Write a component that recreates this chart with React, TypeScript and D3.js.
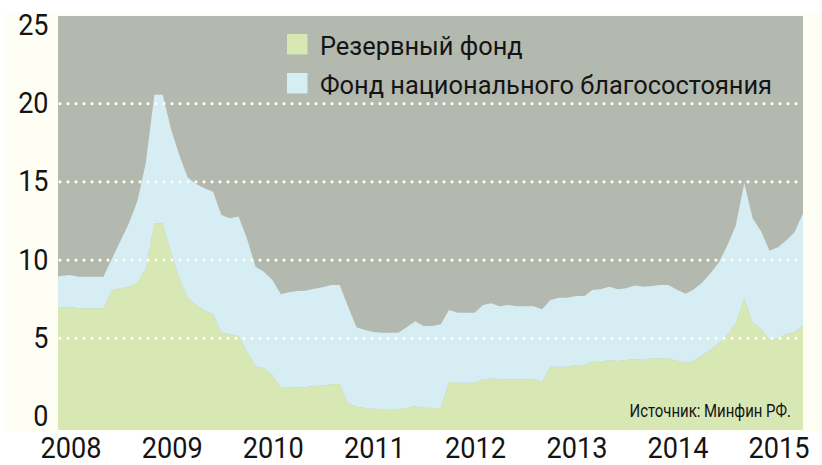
import React from 'react';
import * as d3 from 'd3';

const W = 822;
const H = 465;

// Monthly observations, first value = November 2007, last = April 2015
const FIRST_MONTH = new Date(2007, 10, 1);

// Резервный фонд (lower layer)
const reserveFund = [
  6.92, 6.95, 7.02, 6.92, 6.92, 6.92, 6.92, 8.09, 8.2, 8.3, 8.55, 9.48,
  12.35, 12.35, 10.43, 8.73, 7.62, 7.13, 6.76, 6.55, 5.36, 5.26, 5.15, 4.2,
  3.2, 3.1, 2.65, 1.84, 1.84, 1.85, 1.87, 1.95, 1.97, 2.06, 2.08, 0.86,
  0.62, 0.54, 0.5, 0.48, 0.48, 0.48, 0.55, 0.65, 0.57, 0.55, 0.55, 2.23,
  2.16, 2.16, 2.16, 2.37, 2.44, 2.37, 2.37, 2.37, 2.37, 2.37, 2.25, 3.18,
  3.18, 3.18, 3.29, 3.29, 3.5, 3.5, 3.61, 3.55, 3.62, 3.68, 3.61, 3.72,
  3.72, 3.72, 3.55, 3.44, 3.57, 3.9, 4.25, 4.7, 5.2, 5.95, 7.56, 6.0,
  5.58, 4.89, 5.0, 5.27, 5.38, 5.85,
];

// Фонд национального благосостояния (upper layer)
const wealthFund = [
  2.02, 2.03, 2.03, 2.02, 2.02, 2.02, 2.02, 2.01, 3.0, 4.05, 5.25, 6.72,
  8.21, 8.21, 7.89, 7.88, 7.67, 7.74, 7.83, 7.82, 7.52, 7.41, 7.63, 7.2,
  6.38, 6.16, 6.08, 5.97, 6.1, 6.17, 6.17, 6.21, 6.29, 6.35, 6.33, 6.19,
  5.08, 4.99, 4.9, 4.88, 4.88, 4.88, 5.15, 5.44, 5.22, 5.24, 5.35, 4.58,
  4.48, 4.48, 4.48, 4.76, 4.8, 4.68, 4.76, 4.68, 4.68, 4.68, 4.6, 4.27,
  4.42, 4.42, 4.41, 4.41, 4.59, 4.63, 4.69, 4.58, 4.58, 4.7, 4.69, 4.63,
  4.69, 4.69, 4.55, 4.41, 4.53, 4.65, 4.9, 5.15, 5.7, 6.25, 7.35, 6.67,
  6.24, 5.71, 5.82, 6.02, 6.38, 7.14,
];

const yearTicks = [2008, 2009, 2010, 2011, 2012, 2013, 2014, 2015];
const yTicks = [0, 5, 10, 15, 20, 25];
const gridValues = [5, 10, 15, 20];
const legendLabels = ['Резервный фонд', 'Фонд национального благосостояния'];
const sourceNote = 'Источник: Минфин РФ.';

const COLORS = {
  panel: '#fefef4',
  plot: '#b3b9af',
  rf: '#d8e8b4',
  nwf: '#d5edf3',
  grid: '#fdfdf2',
  text: '#141414',
};

const FONT = 'Roboto, "Noto Sans", sans-serif';

export default function App() {
  const plot = { left: 58, right: 803, top: 16, bottom: 430 };

  const x = d3
    .scaleTime()
    .domain([new Date(2007, 10, 19), new Date(2015, 3, 1)])
    .range([plot.left, plot.right]);

  const y = d3.scaleLinear().domain([-0.86, 25.6]).range([plot.bottom, plot.top]);

  const data = reserveFund.map((rf, i) => ({
    date: d3.timeMonth.offset(FIRST_MONTH, i),
    rf,
    nwf: wealthFund[i],
  }));

  const series = d3.stack<any>().keys(['rf', 'nwf'])(data);
  const floor = y.domain()[0];

  const areaGen = d3
    .area<any>()
    .x((d) => x(d.data.date))
    .y0((d) => y(d[0] === 0 ? floor : d[0]))
    .y1((d) => y(d[1]))
    .curve(d3.curveLinear);

  const layerColors = [COLORS.rf, COLORS.nwf];

  return (
    <svg
      width={W}
      height={H}
      viewBox={`0 0 ${W} ${H}`}
      style={{ position: 'absolute', left: 0, top: 0, display: 'block' }}
    >
      <rect x={0} y={0} width={W} height={H} fill="#ffffff" />
      <rect x={5} y={13} width={W - 5} height={plot.bottom + 2 - 13} fill={COLORS.panel} />
      <defs>
        <clipPath id="plotClip">
          <rect
            x={plot.left}
            y={plot.top}
            width={plot.right - plot.left}
            height={plot.bottom - plot.top}
          />
        </clipPath>
      </defs>
      <rect
        x={plot.left}
        y={plot.top}
        width={plot.right - plot.left}
        height={plot.bottom - plot.top}
        fill={COLORS.plot}
      />
      <g clipPath="url(#plotClip)">
        {series.map((s, i) => (
          <path key={s.key} d={areaGen(s as any) || ''} fill={layerColors[i]} />
        ))}
      </g>

      {gridValues.map((v) => (
        <line
          key={v}
          x1={plot.left + 2}
          x2={plot.right}
          y1={y(v)}
          y2={y(v)}
          stroke={COLORS.grid}
          strokeWidth={3.2}
          strokeLinecap="round"
          strokeDasharray="0 8"
        />
      ))}

      {yTicks.map((v) => (
        <text
          key={v}
          transform={`translate(48.5, ${y(v) + 9.5}) scale(0.9, 1)`}
          textAnchor="end"
          fontFamily={FONT}
          fontSize={30}
          fill={COLORS.text}
        >
          {v}
        </text>
      ))}

      {yearTicks.map((yr) => (
        <text
          key={yr}
          transform={`translate(${x(new Date(yr, 0, 1)) + 1}, 457.5) scale(0.92, 1)`}
          textAnchor="middle"
          fontFamily={FONT}
          fontSize={29.5}
          fill={COLORS.text}
        >
          {yr}
        </text>
      ))}

      {legendLabels.map((label, i) => (
        <g key={label} transform={`translate(287, ${34 + i * 39})`}>
          <rect x={0} y={0} width={20.5} height={20.5} fill={layerColors[i]} />
          <text x={33} y={20.5} fontFamily={FONT} fontSize={25.4} fill={COLORS.text}>
            {label}
          </text>
        </g>
      ))}

      <text
        transform="translate(791, 416.5) scale(0.83, 1)"
        textAnchor="end"
        fontFamily={FONT}
        fontSize={18}
        fill={COLORS.text}
      >
        {sourceNote}
      </text>
    </svg>
  );
}
